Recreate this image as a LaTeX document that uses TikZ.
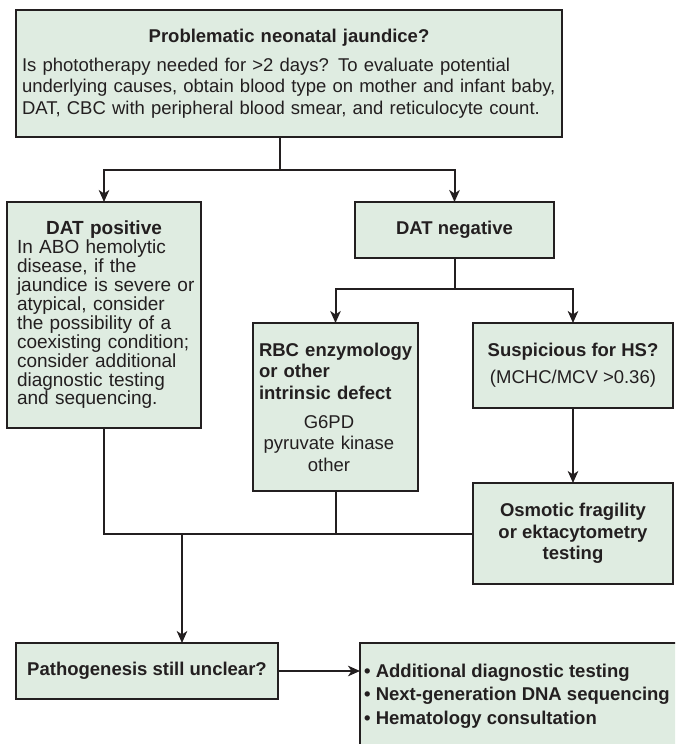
\documentclass[tikz,border=0pt]{standalone}
\usepackage{fontspec}
\setmainfont{Liberation Sans}
\usetikzlibrary{arrows.meta}
\definecolor{boxfill}{RGB}{223,236,225}
\definecolor{ink}{RGB}{35,31,32}
\tikzset{
  box/.style={draw=ink, line width=2.6pt, fill=boxfill, inner sep=0pt, outer sep=0pt, text=ink},
  conn/.style={draw=ink, line width=2pt},
  arr/.style={conn, -{Stealth[length=12pt,width=10.5pt,inset=3.5pt]}},
  txt/.style={font=\fontsize{18.5}{21.5}\selectfont},
  btxt/.style={font=\fontsize{18.5}{21.5}\selectfont\bfseries}
}
\begin{document}
\begin{tikzpicture}[x=1pt,y=-1pt]
\useasboundingbox (0,0) rectangle (675,744);
\clip (0,0) rectangle (675,744);
% boxes
\node[box, txt, minimum width=546pt, minimum height=127pt, text width=534pt, align=left] (top) at (289,73.5)
  {{\centering\bfseries Problematic neonatal jaundice?\par}\vskip7.5pt
   \mbox{Is phototherapy needed for >2 days? To evaluate potential}\\
   \mbox{underlying causes, obtain blood type on mother and infant baby,}\\
   \mbox{DAT, CBC with peripheral blood smear, and reticulocyte count.}};
\node[box, font=\fontsize{19}{18.9}\selectfont, minimum width=194pt, minimum height=226pt, text width=174pt, align=left] (datpos) at (104,315)
  {{\centering\bfseries DAT positive\par}
   \mbox{In ABO hemolytic}\\ \mbox{disease, if the}\\ \mbox{jaundice is severe or}\\ \mbox{atypical, consider}\\ \mbox{the possibility of a}\\
   \mbox{coexisting condition;}\\ \mbox{consider additional}\\ \mbox{diagnostic testing}\\ \mbox{and sequencing.}};
\node[box, btxt, minimum width=199pt, minimum height=56pt] (datneg) at (454.5,230) {DAT negative};
\node[box, txt, minimum width=165pt, minimum height=168pt, text width=153pt, align=left] (rbc) at (335.5,407)
  {\mbox{\bfseries RBC enzymology}\\ \mbox{\bfseries or other}\\ \mbox{\bfseries intrinsic defect}\par\vskip7.5pt
   {\centering\rightskip=13pt plus 1fil G6PD\\ \mbox{pyruvate kinase}\\ other\par}};
\node[box, txt, minimum width=200pt, minimum height=85pt, align=center] (hs) at (573,365.5)
  {\textbf{Suspicious for HS?}\\[5.5pt] (MCHC/MCV >0.36)};
\node[box, btxt, minimum width=200pt, minimum height=101pt, align=center] (osm) at (573,533.5)
  {Osmotic fragility\\ or ektacytometry\\ testing};
\node[box, btxt, minimum width=262pt, minimum height=56pt] (path) at (147,671) {Pathogenesis still unclear?};
\node[box, anchor=north west, minimum width=340pt, minimum height=106pt] (fin) at (360,643) {};
\node[font=\fontsize{18.5}{23.5}\selectfont\bfseries, text=ink, anchor=west, inner sep=2pt, align=left] (fintext) at (362,696)
  {• Additional diagnostic testing\\ • Next-generation DNA sequencing\\ • Hematology consultation};
% connectors
\coordinate (j1) at (280,170);
\coordinate (j2) at (454.5,289);
\coordinate (j3) at (182,533.5);
\draw[conn] (top.south -| j1) -- (j1);
\draw[arr] (j1) -| (datpos.north);
\draw[arr] (j1) -| (datneg.north);
\draw[conn] (datneg.south) -- (j2);
\draw[arr] (j2) -| (rbc.north);
\draw[arr] (j2) -| (hs.north);
\draw[arr] (hs.south) -- (osm.north);
\draw[conn] (datpos.south) |- (osm.west);
\draw[conn] (rbc.south) -- (rbc.south |- osm.west);
\draw[arr] (j3) -- (path.north -| j3);
\draw[arr] (path.east) -- (path.east -| fin.west);
\end{tikzpicture}
\end{document}
